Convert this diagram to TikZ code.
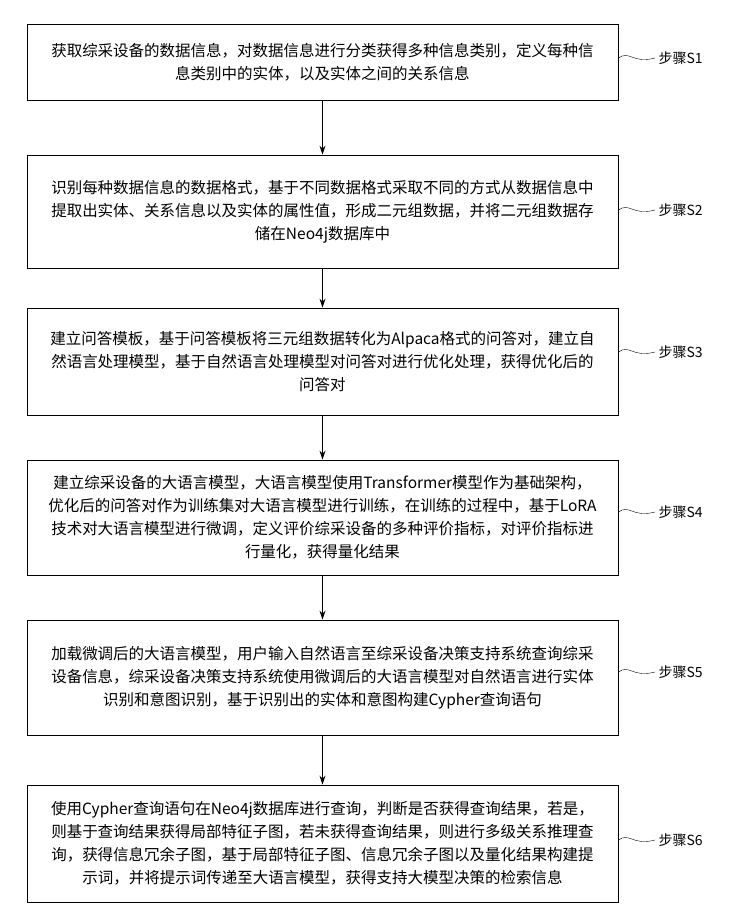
\documentclass[tikz,border=0pt]{standalone}
\usepackage{fontspec}
\setmainfont{Noto Sans CJK SC}
\usetikzlibrary{arrows.meta,positioning,calc}

\tikzset{
  stepbox/.style={draw, thick, minimum width=591pt, align=center, text width=576pt,
    font=\fontsize{15.5pt}{23pt}\selectfont, inner sep=0pt},
  steplabel/.style={font=\fontsize{14pt}{16pt}\selectfont},
  flow/.style={-{Stealth[length=9pt,width=6pt]}, thick},
  wave/.style={thin}
}

\begin{document}
\begin{tikzpicture}[x=1pt, y=-1pt]
  \useasboundingbox (0,0) rectangle (739,914);
  \node[stepbox, minimum height=76pt] (S1) at (322.5,62) {获取综采设备的数据信息，对数据信息进行分类获得多种信息类别，定义每种信\\息类别中的实体，以及实体之间的关系信息};
  \node[stepbox, minimum height=113pt] (S2) at (322.5,211.5) {识别每种数据信息的数据格式，基于不同数据格式采取不同的方式从数据信息中\\提取出实体、关系信息以及实体的属性值，形成二元组数据，并将二元组数据存\\储在Neo4j数据库中};
  \node[stepbox, minimum height=107pt] (S3) at (322.5,361.5) {建立问答模板，基于问答模板将三元组数据转化为Alpaca格式的问答对，建立自\\然语言处理模型，基于自然语言处理模型对问答对进行优化处理，获得优化后的\\问答对};
  \node[stepbox, minimum height=115pt] (S4) at (322.5,517.5) {建立综采设备的大语言模型，大语言模型使用Transformer模型作为基础架构，\\优化后的问答对作为训练集对大语言模型进行训练，在训练的过程中，基于LoRA\\技术对大语言模型进行微调，定义评价综采设备的多种评价指标，对评价指标进\\行量化，获得量化结果};
  \node[stepbox, minimum height=115pt] (S5) at (322.5,677.5) {加载微调后的大语言模型，用户输入自然语言至综采设备决策支持系统查询综采\\设备信息，综采设备决策支持系统使用微调后的大语言模型对自然语言进行实体\\识别和意图识别，基于识别出的实体和意图构建Cypher查询语句};
  \node[stepbox, minimum height=117pt] (S6) at (322.5,843.5) {使用Cypher查询语句在Neo4j数据库进行查询，判断是否获得查询结果，若是，\\则基于查询结果获得局部特征子图，若未获得查询结果，则进行多级关系推理查\\询，获得信息冗余子图，基于局部特征子图、信息冗余子图以及量化结果构建提\\示词，并将提示词传递至大语言模型，获得支持大模型决策的检索信息};

  % arrows between steps
  \foreach \a/\b in {S1/S2, S2/S3, S3/S4, S4/S5, S5/S6}
    \draw[flow] (\a.south) -- (\b.north);

  % step labels with wavy leaders
  \foreach \s/\y in {S1/58, S2/210, S3/352, S4/512, S5/672, S6/840} {
    \node[steplabel, anchor=west] (L\s) at (655,\y) {步骤\s};
    \draw[wave] (\s.east |- 0,\y) .. controls (630,\y-8) and (632,\y+6) .. (L\s.west);
  }
\end{tikzpicture}
\end{document}
